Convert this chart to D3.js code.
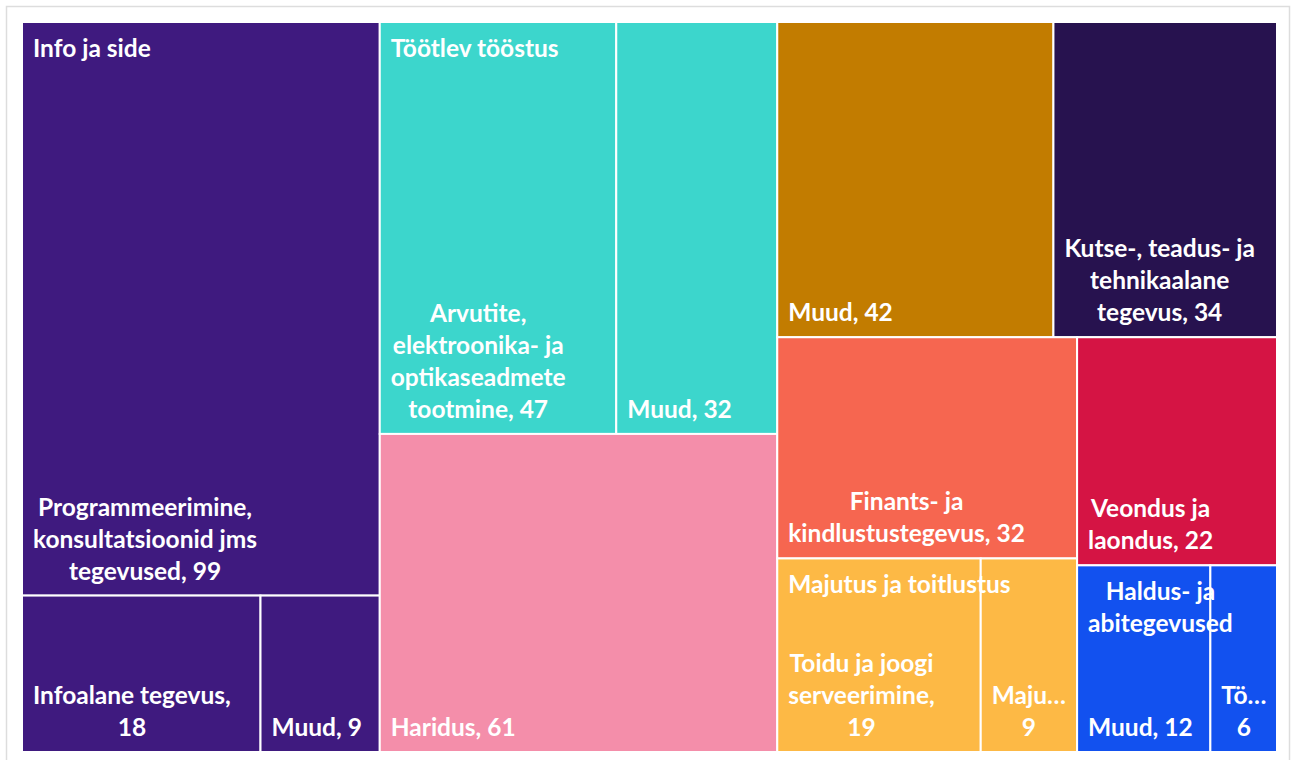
<!DOCTYPE html>
<html>
<head>
<meta charset="utf-8">
<script src="https://cdn.jsdelivr.net/npm/d3@7/dist/d3.min.js"></script>
<style>
  html, body { margin: 0; padding: 0; background: #ffffff; }
  svg { display: block; }
  text { font-family: Lato, "Open Sans", sans-serif; font-weight: 700; fill: #ffffff; }
</style>
</head>
<body>
<svg id="chart" width="1296" height="760"></svg>
<script>
// ---- data ----
const groupNames = [
  "Info ja side",
  "Töötlev tööstus",
  "Haridus",
  "Muud",
  "Kutse-, teadus- ja tehnikaalane tegevus",
  "Finants- ja kindlustustegevus",
  "Majutus ja toitlustus",
  "Veondus ja laondus",
  "Haldus- ja abitegevused"
];
const groupColors = [
  "#3f1a7f", "#3cd6cc", "#f48eaa", "#c27c00", "#27124f",
  "#f66650", "#fdb945", "#d51444", "#1251ef"
];
const childNames = [
  ["Programmeerimine, konsultatsioonid jms tegevused", "Infoalane tegevus", "Muud"],
  ["Arvutite, elektroonika- ja optikaseadmete tootmine", "Muud"],
  ["Haridus"],
  ["Muud"],
  ["Kutse-, teadus- ja tehnikaalane tegevus"],
  ["Finants- ja kindlustustegevus"],
  ["Toidu ja joogi serveerimine", "Majutus"],
  ["Veondus ja laondus"],
  ["Muud", "Tööhõive"]
];
const childValues = [
  [99, 18, 9],
  [47, 32],
  [61],
  [42],
  [34],
  [32],
  [19, 9],
  [22],
  [12, 6]
];

// ---- build hierarchy ----
const rootData = {
  name: "root",
  children: groupNames.map((g, i) => ({
    name: g, color: groupColors[i], gi: i,
    children: childNames[i].map((c, j) => ({ name: c, value: childValues[i][j] }))
  }))
};

const svg = d3.select("#chart");
// outer frame
svg.append("rect").attr("x", 6.5).attr("y", 6.5).attr("width", 1283).attr("height", 770)
  .attr("fill", "#fff").attr("stroke", "#dddddd").attr("stroke-width", 1.5);

const X0 = 22, Y0 = 22, W = 1255, H = 730;
const root = d3.hierarchy(rootData).sum(d => d.value || 0).sort((a, b) => b.value - a.value);
const topTile = d3.treemapSquarify.ratio(1);
const subTile = d3.treemapSquarify.ratio(1.4);
d3.treemap()
  .tile((node, x0, y0, x1, y1) => (node.depth === 0 ? topTile : subTile)(node, x0, y0, x1, y1))
  .size([W, H]).round(false)(root);

const g = svg.append("g").attr("transform", `translate(${X0},${Y0})`);

const FONT = 24.5, LH = 32, PAD = 11, AVAIL = 25, TRUNC = 20;

// measuring helper
const meas = g.append("text").attr("font-size", FONT).attr("visibility", "hidden");
function tw(s) { meas.text(s); return meas.node().getComputedTextLength(); }
function fitWord(w, maxW) {
  if (tw(w) <= maxW) return w;
  let s = w;
  while (s.length > 1 && tw(s + "…") > maxW) s = s.slice(0, -1);
  return s + "…";
}
function wrap(str, maxW, truncW) {
  const words = str.split(" ");
  const lines = [];
  let cur = "";
  words.forEach(w => {
    const test = cur ? cur + " " + w : w;
    if (tw(test) <= maxW) cur = test;
    else {
      if (cur) lines.push(cur);
      cur = w;
    }
  });
  if (cur) lines.push(cur);
  return lines.map(l => fitWord(l, truncW));
}

const leaves = root.leaves();
g.selectAll("rect.leaf").data(leaves).join("rect")
  .attr("class", "leaf")
  .attr("x", d => d.x0).attr("y", d => d.y0)
  .attr("width", d => d.x1 - d.x0).attr("height", d => d.y1 - d.y0)
  .attr("fill", d => d.parent.data.color)
  .attr("stroke", "#ffffff").attr("stroke-width", 2);

function drawBlock(lines, x, baselineFirst) {
  const bw = d3.max(lines, l => tw(l));
  const t = g.append("text").attr("font-size", FONT).attr("text-anchor", "middle");
  lines.forEach((l, i) => {
    t.append("tspan").attr("x", x + bw / 2).attr("y", baselineFirst + i * LH).text(l);
  });
}

// leaf labels (bottom)
leaves.forEach(d => {
  const w = d.x1 - d.x0;
  const lines = wrap(`${d.data.name}, ${d.value}`, w - AVAIL, w - TRUNC);
  const lastBase = d.y1 - 16;
  drawBlock(lines, d.x0 + PAD, lastBase - (lines.length - 1) * LH);
});

// group labels (top) for groups with several children
root.children.filter(p => p.children.length > 1).forEach(p => {
  const w = p.x1 - p.x0;
  const lines = wrap(p.data.name, w - AVAIL, w - TRUNC);
  drawBlock(lines, p.x0 + PAD, p.y0 + 35);
});
meas.remove();
</script>
</body>
</html>
